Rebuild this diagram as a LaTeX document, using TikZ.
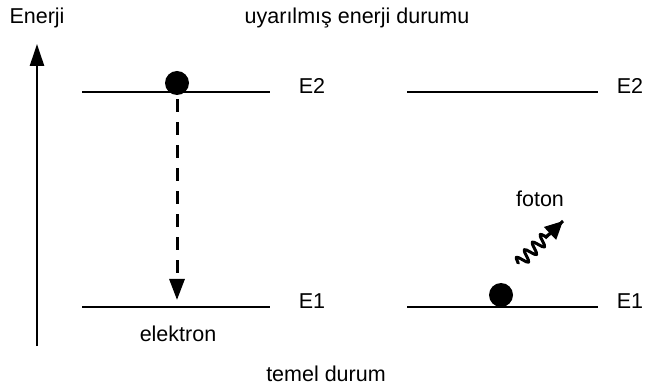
\documentclass[tikz,border=0pt]{standalone}
\usepackage{fontspec}
\setmainfont{Liberation Sans}
\usetikzlibrary{arrows.meta,decorations.pathmorphing,calc}
\begin{document}
\begin{tikzpicture}[x=1pt,y=-1pt,
  lvl/.style={line width=2.4pt},
  lbl/.style={font=\fontsize{21.5}{25}\selectfont, inner sep=0pt},
  ball/.style={circle, fill=black, minimum size=24pt, inner sep=0pt}]
\useasboundingbox (0,0) rectangle (653,387);
% labels
\node[lbl] (en) at (37,18) {Enerji};
\node[lbl] (up) at (357,18) {uyarılmış enerji durumu};
\node[lbl] (tm) at (326,374) {temel durum};
\node[lbl] (el) at (178,334) {elektron};
\node[lbl] (fo) at (540,199) {foton};
% energy axis
\coordinate (ax0) at (37,346);
\coordinate (ax1) at (37,44);
\draw[line width=2.5pt, -{Triangle[length=22pt,width=14pt]}] (ax0) -- (ax1);
% left levels
\coordinate (l2a) at (82,92); \coordinate (l2b) at (270,92);
\coordinate (l1a) at (82,307); \coordinate (l1b) at (270,307);
\draw[lvl] (l2a) -- (l2b);
\draw[lvl] (l1a) -- (l1b);
\node[lbl] (le2) at (312,86) {E2};
\node[lbl] (le1) at (312,301) {E1};
% right levels
\coordinate (r2a) at (407,92); \coordinate (r2b) at (598,92);
\coordinate (r1a) at (407,307); \coordinate (r1b) at (598,307);
\draw[lvl] (r2a) -- (r2b);
\draw[lvl] (r1a) -- (r1b);
\node[lbl] (re2) at (630,86) {E2};
\node[lbl] (re1) at (630,301) {E1};
% electron up
\node[ball] (b1) at (177,83) {};
\coordinate (dtip) at (177,300);
\draw[line width=3pt, dash pattern=on 13pt off 10pt, -{Triangle[length=21pt,width=15pt]}] (b1.south) ++(0,4) -- (dtip);
% electron down
\node[ball] (b2) at (501,295) {};
% photon
\coordinate (p0) at (518,264);
\coordinate (p1) at (563,221);
\draw[line width=3pt, line join=round, decorate, decoration={snake, amplitude=6pt, segment length=11pt, post length=17pt}] (p0) -- (p1);
\draw[line width=3pt, -{Triangle[length=18pt,width=17pt]}] ($(p0)!0.6!(p1)$) -- (p1);
\end{tikzpicture}
\end{document}
